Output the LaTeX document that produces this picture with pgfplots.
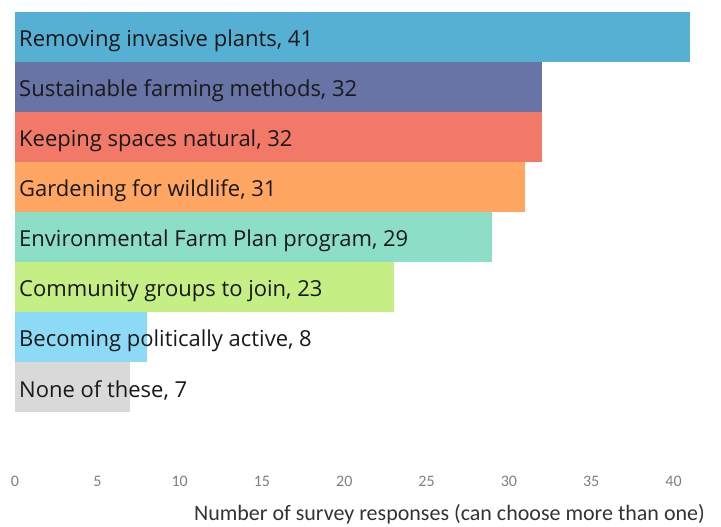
\documentclass[border=0pt]{standalone}
\usepackage{pgfplots}
\pgfplotsset{compat=1.18}
\usepackage{fontspec}
\setmainfont{Carlito}
\newfontfamily\labfont{Open Sans}
\definecolor{c1}{HTML}{56B0D4}
\definecolor{c2}{HTML}{6873A6}
\definecolor{c3}{HTML}{F27968}
\definecolor{c4}{HTML}{FFA663}
\definecolor{c5}{HTML}{8DDEC6}
\definecolor{c6}{HTML}{C5EE84}
\definecolor{c7}{HTML}{8DDAF6}
\definecolor{c8}{HTML}{D9D9D9}
\begin{document}
\begin{tikzpicture}[x=1pt,y=1pt]
\path[use as bounding box] (0,0) rectangle (721,527);
\begin{axis}[
  at={(15pt,115pt)}, anchor=south west,
  scale only axis, width=675pt, height=400pt,
  xmin=0, xmax=41, ymin=-0.5, ymax=7.5,
  xbar, bar width=50pt, bar shift=0pt,
  axis line style={draw=none}, tick style={draw=none},
  ytick=\empty,
  xtick={0,5,...,40},
  /pgf/number format/assume math mode=true,
  xticklabel style={font=\fontsize{16}{16}\selectfont, text=black!50, yshift=-61pt},
  xlabel={Number of survey responses (can choose more than one)},
  xlabel style={font=\fontsize{22}{22}\selectfont, text=black!80, anchor=north east, inner sep=0pt, at={(rel axis cs:1,0)}, xshift=15pt, yshift=-92pt},
  clip=false,
]
\addplot[fill=c1, draw=none] coordinates {(41,7)};
\addplot[fill=c2, draw=none] coordinates {(32,6)};
\addplot[fill=c3, draw=none] coordinates {(32,5)};
\addplot[fill=c4, draw=none] coordinates {(31,4)};
\addplot[fill=c5, draw=none] coordinates {(29,3)};
\addplot[fill=c6, draw=none] coordinates {(23,2)};
\addplot[fill=c7, draw=none] coordinates {(8,1)};
\addplot[fill=c8, draw=none] coordinates {(7,0)};
\addplot[xbar=0pt, draw=none, fill=none, bar width=0pt, point meta=explicit symbolic,
  nodes near coords, nodes near coords align={anchor=west},
  nodes near coords style={anchor=west, inner sep=0pt, xshift=4pt, yshift=-4pt, font=\labfont\fontsize{22}{22}\selectfont, text=black!90}]
  table[meta=label, col sep=comma] {
x,y,label
0,7,{Removing invasive plants, 41}
0,6,{Sustainable farming methods, 32}
0,5,{Keeping spaces natural, 32}
0,4,{Gardening for wildlife, 31}
0,3,{Environmental Farm Plan program, 29}
0,2,{Community groups to join, 23}
0,1,{Becoming politically active, 8}
0,0,{None of these, 7}
};
\end{axis}
\end{tikzpicture}
\end{document}
